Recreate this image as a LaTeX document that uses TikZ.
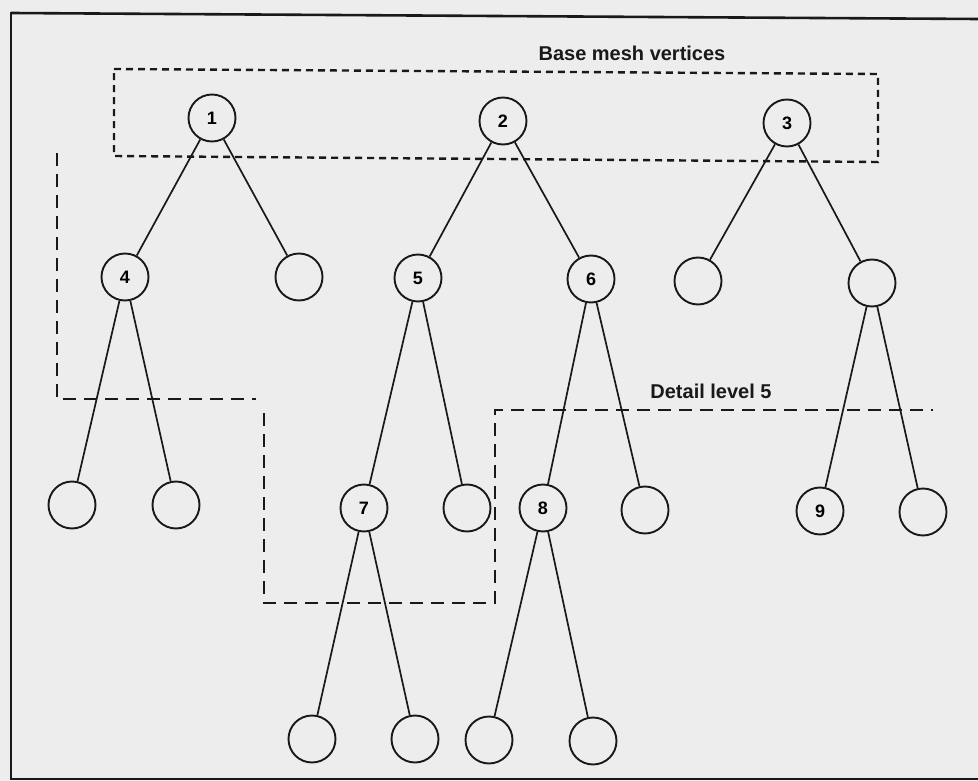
\documentclass[tikz,border=0pt]{standalone}
\usepackage{fontspec}
\setmainfont{Liberation Sans}
\begin{document}
\begin{tikzpicture}[x=1pt,y=-1pt,
  ink/.style={draw=black!90},
  vtx/.style={circle,ink,line width=1.9pt,minimum size=47pt,inner sep=0pt,font=\fontsize{18}{18}\selectfont\bfseries},
  edge/.style={ink,line width=1.7pt},
  frameline/.style={ink,line width=2.6pt},
  shortdash/.style={ink,line width=2.4pt,dash pattern=on 7pt off 5pt},
  longdash/.style={ink,line width=2.2pt,dash pattern=on 13pt off 8pt},
  lbl/.style={font=\fontsize{20}{20}\selectfont\bfseries,text=black!90,inner sep=0pt}]
\useasboundingbox (0,0) rectangle (978,781);
\fill[black!7] (0,0) rectangle (978,781);
% frame
\draw[frameline] (11,13) -- (978,19);
\draw[frameline] (11,12) -- (11,779) -- (978,779);
% base mesh box
\draw[shortdash] (114,69) -- (878,74) -- (878,162) -- (114,156) -- cycle;
\node[lbl] (tbase) at (632,53) {Base mesh vertices};
% detail level lines
\draw[longdash] (57,153) -- (57,399) -- (256,399);
\draw[longdash] (264,413) -- (264,603) -- (495,603) -- (495,410) -- (933,410);
\node[lbl] (tdet) at (711,391) {Detail level 5};
% level 1
\node[vtx] (n1) at (212,118) {1};
\node[vtx] (n2) at (503,121) {2};
\node[vtx] (n3) at (787,123) {3};
% level 2
\node[vtx] (n4) at (125,277) {4};
\node[vtx] (e1) at (299,277) {};
\node[vtx] (n5) at (418,278) {5};
\node[vtx] (n6) at (591,279) {6};
\node[vtx] (e2) at (698,281) {};
\node[vtx] (e3) at (872,283) {};
% level 3
\node[vtx] (e4) at (72,505) {};
\node[vtx] (e5) at (176,505) {};
\node[vtx] (n7) at (364,508) {7};
\node[vtx] (e6) at (467,508) {};
\node[vtx] (n8) at (543,508) {8};
\node[vtx] (e7) at (645,510) {};
\node[vtx] (n9) at (820,511) {9};
\node[vtx] (e8) at (923,512) {};
% level 4
\node[vtx] (e9) at (312,739) {};
\node[vtx] (e10) at (415,739) {};
\node[vtx] (e11) at (489,740) {};
\node[vtx] (e12) at (593,741) {};
% edges
\draw[edge] (n1) -- (n4);
\draw[edge] (n1) -- (e1);
\draw[edge] (n2) -- (n5);
\draw[edge] (n2) -- (n6);
\draw[edge] (n3) -- (e2);
\draw[edge] (n3) -- (e3);
\draw[edge] (n4) -- (e4);
\draw[edge] (n4) -- (e5);
\draw[edge] (n5) -- (n7);
\draw[edge] (n5) -- (e6);
\draw[edge] (n6) -- (n8);
\draw[edge] (n6) -- (e7);
\draw[edge] (e3) -- (n9);
\draw[edge] (e3) -- (e8);
\draw[edge] (n7) -- (e9);
\draw[edge] (n7) -- (e10);
\draw[edge] (n8) -- (e11);
\draw[edge] (n8) -- (e12);
\end{tikzpicture}
\end{document}
